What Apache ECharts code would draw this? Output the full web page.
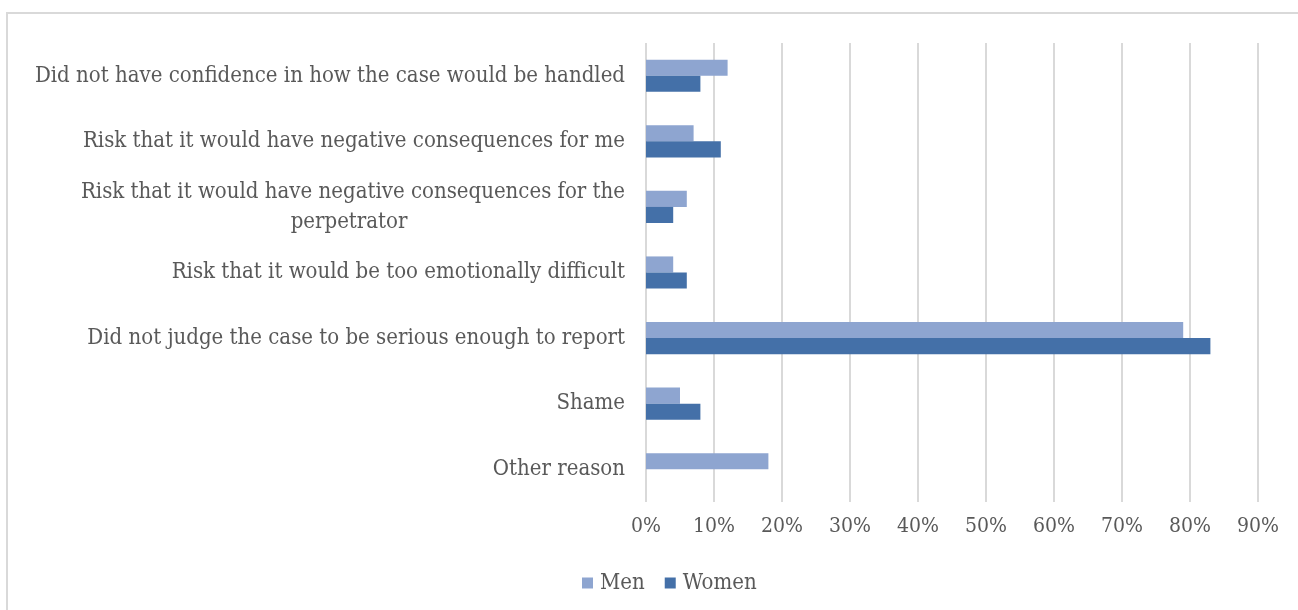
<!DOCTYPE html>
<html>
<head>
<meta charset="utf-8">
<script src="https://cdn.jsdelivr.net/npm/echarts@6/dist/echarts.min.js"></script>
<style>html,body{margin:0;padding:0;background:#fff;}#c{width:1298px;height:610px;}</style>
</head>
<body>
<div id="c"></div>
<script>
const categories = [
  "Did not have confidence in how the case would be handled",
  "Risk that it would have negative consequences for me",
  "Risk that it would have negative consequences for the perpetrator",
  "Risk that it would be too emotionally difficult",
  "Did not judge the case to be serious enough to report",
  "Shame",
  "Other reason"
];
const menValues = [12, 7, 6, 4, 79, 5, 18];
const womenValues = [8, 11, 4, 6, 83, 8, 0];
const tickLabels = ["0%","10%","20%","30%","40%","50%","60%","70%","80%","90%"];

const FONT = "'DejaVu Serif Condensed', 'Liberation Serif', serif";
const chart = echarts.init(document.getElementById('c'));
chart.setOption({
  backgroundColor: '#fff',
  animation: false,
  graphic: [{
    type: 'rect', shape: {x: 7, y: 13, width: 1300, height: 610},
    style: {fill: 'none', stroke: '#d9d9d9', lineWidth: 2}, silent: true
  }],
  grid: {left: 646, top: 43, width: 612, height: 459},
  legend: {
    left: 577, top: 567, itemWidth: 11, itemHeight: 11, itemGap: 20,
    icon: 'rect',
    textStyle: {fontFamily: FONT, fontSize: 22, color: '#595959', padding: [0, 0, 0, 2]},
    data: ['Men', 'Women']
  },
  xAxis: {
    type: 'value', min: 0, max: 90, interval: 10,
    axisLine: {show: false}, axisTick: {show: false},
    splitLine: {lineStyle: {color: '#d9d9d9', width: 2}},
    axisLabel: {
      formatter: v => tickLabels[Math.round(v / 10)],
      fontFamily: FONT, fontSize: 21, color: '#595959', margin: 14
    }
  },
  yAxis: {
    type: 'category', inverse: true, data: categories,
    axisLine: {show: false}, axisTick: {show: false},
    axisLabel: {
      fontFamily: FONT, fontSize: 22, color: '#595959', margin: 21,
      formatter: v => {
        if (v.indexOf('perpetrator') >= 0) {
          return '{a|Risk that it would have negative consequences for the}\n{b|perpetrator}';
        }
        return v;
      },
      rich: {
        a: {fontFamily: FONT, fontSize: 22, color: '#595959', lineHeight: 30},
        b: {fontFamily: FONT, fontSize: 22, color: '#595959', lineHeight: 30, width: 552, align: 'center'}
      }
    }
  },
  series: [
    {name: 'Men', type: 'bar', data: menValues, barGap: '0%', barCategoryGap: '51%',
     itemStyle: {color: '#8EA5D0'}},
    {name: 'Women', type: 'bar', data: womenValues, barGap: '0%', barCategoryGap: '51%',
     itemStyle: {color: '#4470A8'}}
  ]
});
</script>
</body>
</html>
